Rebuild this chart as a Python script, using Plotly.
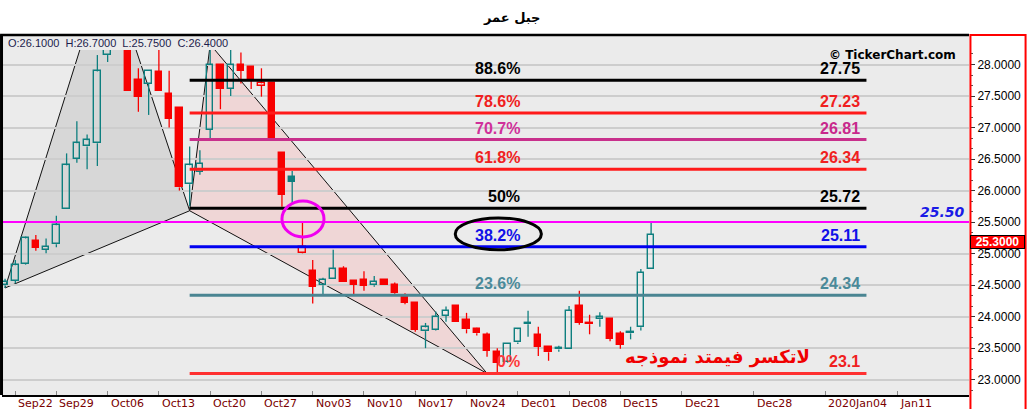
import plotly.graph_objects as go

# ---------------- data ----------------
chart_title = "جبل عمر"
ohlc_header = "O:26.1000\u00a0\u00a0H:26.7000\u00a0\u00a0L:25.7500\u00a0\u00a0C:26.4000"
watermark = "© TickerChart.com"
note_text = "لاتكسر فيمتد نموذجه"

candle_idx = list(range(64))
opens = [24.50, 24.566, 24.83, 25.20, 25.06, 25.15, 25.70, 26.50, 26.70, 26.75,
         28.15, 28.55, 28.35, 27.755, 27.69, 27.886, 27.54, 27.305, 26.10, 26.30,
         26.96, 28.00, 27.61, 28.00, 27.955, 27.66, 27.70, 26.59, 26.22, 25.005,
         24.724, 24.50, 24.59, 24.756, 24.565, 24.58, 24.50, 24.58, 24.50, 24.307,
         24.22, 23.77, 23.79, 24.015, 24.17, 23.945, 23.81, 23.71, 23.44, 23.28,
         23.59, 23.88, 23.71, 23.525, 23.48, 23.48, 24.17, 23.90, 23.96, 23.96,
         23.725, 23.735, 23.83, 24.75]
highs = [24.60, 24.90, 25.27, 25.295, 25.24, 25.60, 26.59, 27.10, 26.89, 28.15,
         28.70, 28.75, 28.50, 27.94, 27.89, 28.30, 27.90, 27.31, 26.70, 26.64,
         28.32, 28.00, 28.25, 28.19, 27.96, 27.94, 27.70, 26.59, 26.31, 25.49,
         24.90, 24.617, 25.06, 24.80, 24.58, 24.72, 24.645, 24.58, 24.54, 24.37,
         24.22, 23.90, 24.08, 24.16, 24.17, 24.06, 23.825, 23.75, 23.50, 23.57,
         23.815, 24.095, 23.84, 23.53, 23.54, 24.17, 24.41, 24.03, 24.07, 23.96,
         23.77, 23.84, 24.755, 25.50]
lows = [24.455, 24.53, 24.82, 25.045, 25.005, 25.10, 25.70, 26.44, 26.34, 26.39,
        28.04, 28.30, 27.58, 27.25, 27.20, 27.585, 27.00, 26.00, 25.75, 26.25,
        26.83, 27.29, 27.50, 27.70, 27.61, 27.49, 26.80, 25.745, 25.80, 25.00,
        24.21, 24.33, 24.59, 24.545, 24.34, 24.41, 24.475, 24.50, 24.34, 24.195,
        23.76, 23.50, 23.78, 23.92, 23.92, 23.735, 23.70, 23.365, 23.10, 23.27,
        23.566, 23.68, 23.375, 23.30, 23.445, 23.48, 23.87, 23.72, 23.84, 23.61,
        23.49, 23.64, 23.78, 24.75]
closes = [24.545, 24.815, 25.24, 25.09, 25.11, 25.45, 26.40, 26.75, 26.80, 27.89,
          28.50, 28.60, 27.585, 27.49, 27.89, 27.585, 27.135, 26.05, 26.40, 26.42,
          28.00, 27.61, 28.00, 27.90, 27.765, 27.70, 26.83, 25.93, 26.14, 25.11,
          24.475, 24.58, 24.75, 24.545, 24.51, 24.49, 24.555, 24.50, 24.37, 24.22,
          23.79, 23.83, 24.00, 24.09, 23.92, 23.80, 23.735, 23.46, 23.27, 23.566,
          23.80, 23.90, 23.525, 23.435, 23.50, 24.09, 23.90, 23.88, 23.99, 23.645,
          23.55, 23.76, 24.70, 25.30]

week_labels = ["Sep22", "Sep29", "Oct06", "Oct13", "Oct20", "Oct27", "Nov03", "Nov10",
               "Nov17", "Nov24", "Dec01", "Dec08", "Dec15", "Dec21", "Dec28",
               "2020Jan04", "Jan11"]
week_pos = [1, 5, 10, 15, 20, 25, 30, 35, 40, 45, 50, 55, 60, 66, 73, 80, 87]

fib_pcts = ["88.6%", "78.6%", "70.7%", "61.8%", "50%", "38.2%", "23.6%", "0%"]
fib_vals = [27.75, 27.23, 26.81, 26.34, 25.72, 25.11, 24.34, 23.10]
fib_val_text = ["27.75", "27.23", "26.81", "26.34", "25.72", "25.11", "24.34", "23.1"]
fib_start, fib_end = 18, 84

pattern_x = [0, 9.95, 18, 20, 47]
pattern_y = [24.455, 29.61, 25.68, 28.32, 23.10]

hline_value = 25.50
last_price = 25.30

# ---------------- styles ----------------
TEAL = "#0E7F7F"
RED = "#F80000"
BG = "#EBEBEB"
fib_colors = ["#000000", "#FF1A1A", "#C8308C", "#FF1A1A", "#000000", "#0000F0", "#4A8592", "#FF3030"]
fib_text_colors = ["#000000", "#F02020", "#D0309A", "#F02020", "#000000", "#1010E8", "#4A8A9A", "#FF3A3A"]
fib_val_colors = ["#000000", "#F02020", "#C8288C", "#F02020", "#000000", "#1010E8", "#4A8A9A", "#F02020"]

fig = go.Figure()

# ---------------- candles ----------------
groups = {}
for i in candle_idx:
    up = (i == 0) or (closes[i] >= closes[i - 1])
    hollow = closes[i] > opens[i]
    groups.setdefault((up, hollow), []).append(i)

BODY_W = 0.62
for (up, hollow), ids in groups.items():
    col = TEAL if up else RED
    bases = [min(opens[i], closes[i]) for i in ids]
    heights = [max(abs(closes[i] - opens[i]), 0.012) for i in ids]
    fig.add_trace(go.Bar(
        x=ids, y=heights, base=bases, width=BODY_W,
        marker=dict(color="rgba(0,0,0,0)" if hollow else col,
                    line=dict(color=col, width=1.4)),
        hoverinfo="skip", showlegend=False))

for up in (True, False):
    col = TEAL if up else RED
    wx, wy = [], []
    for (u, h), ids in groups.items():
        if u != up:
            continue
        for i in ids:
            top = max(opens[i], closes[i])
            bot = min(opens[i], closes[i])
            wx += [i, i, None, i, i, None]
            wy += [highs[i], top, None, bot, lows[i], None]
    fig.add_trace(go.Scatter(x=wx, y=wy, mode="lines", line=dict(color=col, width=1.3),
                             hoverinfo="skip", showlegend=False))

# ---------------- fib levels ----------------
for v, c in zip(fib_vals, fib_colors):
    fig.add_trace(go.Scatter(x=[fib_start, fib_end], y=[v, v], mode="lines",
                             line=dict(color=c, width=3), hoverinfo="skip", showlegend=False))

shapes = []
def tri_path(ix):
    pts = [(pattern_x[k], pattern_y[k]) for k in ix]
    return "M " + " L ".join(f"{x},{y}" for x, y in pts) + " Z"

shapes.append(dict(type="path", xref="x", yref="y", path=tri_path([0, 1, 2]),
                   fillcolor="#D7D7D7", line=dict(color="#111111", width=1), layer="below"))
shapes.append(dict(type="path", xref="x", yref="y", path=tri_path([2, 3, 4]),
                   fillcolor="#EFD6D6", line=dict(color="#111111", width=1), layer="below"))

shapes.append(dict(type="line", xref="paper", yref="y", x0=0, x1=1, y0=hline_value, y1=hline_value,
                   line=dict(color="#FF00FF", width=2), layer="above"))
shapes.append(dict(type="circle", xref="x", yref="y", x0=27.0, x1=31.1, y0=25.264, y1=25.835,
                   line=dict(color="#F000F0", width=3), layer="above"))
shapes.append(dict(type="circle", xref="x", yref="y", x0=43.9, x1=52.3, y0=25.06, y1=25.565,
                   line=dict(color="#000000", width=3), layer="above"))
shapes.append(dict(type="rect", xref="paper", yref="paper", x0=0, x1=1, y0=1, y1=1.0435,
                   fillcolor=BG, line=dict(width=0), layer="above"))
shapes.append(dict(type="line", xref="paper", yref="paper", x0=-0.002, x1=1, y0=1.0435, y1=1.0435,
                   line=dict(color="#000000", width=2.5), layer="above"))
shapes.append(dict(type="line", xref="paper", yref="paper", x0=-0.0005, x1=-0.0005, y0=0, y1=1.0435,
                   line=dict(color="#000000", width=3), layer="above"))
shapes.append(dict(type="rect", xref="paper", yref="paper", x0=1.0015, x1=1.0585, y0=-0.045, y1=1.0435,
                   fillcolor="rgba(0,0,0,0)", line=dict(color="#FF0000", width=2), layer="above"))

ann = []
for p, v, c in zip(fib_pcts, fib_vals, fib_text_colors):
    ann.append(dict(x=50.4, y=v, xref="x", yref="y", text=f"<b>{p}</b>", showarrow=False,
                    xanchor="right", yanchor="bottom", yshift=1,
                    font=dict(family="Liberation Sans", size=16, color=c)))
for t, v, c in zip(fib_val_text, fib_vals, fib_val_colors):
    ann.append(dict(x=83.55, y=v, xref="x", yref="y", text=f"<b>{t}</b>", showarrow=False,
                    xanchor="right", yanchor="bottom", yshift=1,
                    font=dict(family="Liberation Sans", size=16, color=c)))

for lab, pos in zip(week_labels, week_pos):
    ann.append(dict(x=pos, y=-0.0232, xref="x", yref="paper", text=lab, showarrow=False,
                    xanchor="left", yanchor="middle", xshift=1,
                    font=dict(family="DejaVu Sans", size=11, color="#7A0000")))

ann.append(dict(x=0.527, y=1.093, xref="paper", yref="paper", text=f"<b>{chart_title}</b>",
                showarrow=False, xanchor="center", yanchor="middle",
                font=dict(family="DejaVu Sans", size=13, color="#000000")))
ann.append(dict(x=0.004, y=1.0215, xref="paper", yref="paper", text=ohlc_header, showarrow=False,
                xanchor="left", yanchor="middle",
                font=dict(family="Liberation Sans", size=11, color="#1C1C4C")))
ann.append(dict(x=0.9886, y=0.9855, xref="paper", yref="paper", text=f"<b>{watermark}</b>",
                showarrow=False, xanchor="right", yanchor="middle",
                font=dict(family="DejaVu Sans", size=12, color="#000000")))
ann.append(dict(x=0.998, y=hline_value, xref="paper", yref="y", text=f"<b><i>{hline_value:.2f}</i></b>",
                showarrow=False, xanchor="right", yanchor="bottom", yshift=0,
                font=dict(family="DejaVu Sans", size=14, color="#1A1AE6")))
ann.append(dict(x=78.7, y=23.36, xref="x", yref="y", text=f"<b>{note_text}</b>", showarrow=False,
                xanchor="right", yanchor="middle",
                font=dict(family="DejaVu Sans", size=18, color="#F00000")))
ann.append(dict(x=1.0015, y=last_price, xref="paper", yref="y", text=f"<b>{last_price:.4f}</b>",
                showarrow=False, xanchor="left", yanchor="top", width=53, height=12,
                bgcolor="#FF0000", bordercolor="#000000", borderwidth=1, borderpad=0,
                font=dict(family="Liberation Sans", size=12, color="#FFFFFF")))

fig.update_layout(
    width=1028, height=409,
    margin=dict(l=2, r=59, t=50, b=14, pad=0),
    paper_bgcolor="#FFFFFF", plot_bgcolor=BG,
    barmode="overlay", bargap=0,
    showlegend=False, hovermode=False,
    shapes=shapes, annotations=ann,
    xaxis=dict(range=[-0.3, 94.0], showgrid=False, zeroline=False,
               tickvals=week_pos, ticktext=["" for _ in week_pos], showticklabels=False,
               ticks="inside", ticklen=4, tickcolor="#888888",
               showline=True, linecolor="#000000", linewidth=2, fixedrange=True),
    yaxis=dict(range=[22.757, 28.23], side="right", dtick=0.5, tick0=0, tickformat=".4f",
               showgrid=True, gridcolor="#CDCDCD", gridwidth=2, zeroline=False,
               ticks="outside", ticklen=5, tickcolor="#333333", showline=False,
               tickfont=dict(family="Liberation Sans", size=12, color="#000000"),
               minor=dict(dtick=0.5 / 3, ticks="outside", ticklen=3, tickcolor="#555555", showgrid=False),
               fixedrange=True),
)

fig.write_html("out.html", config={"displayModeBar": False},
               post_script="document.body.style.margin='0';document.body.style.overflow='hidden';")
